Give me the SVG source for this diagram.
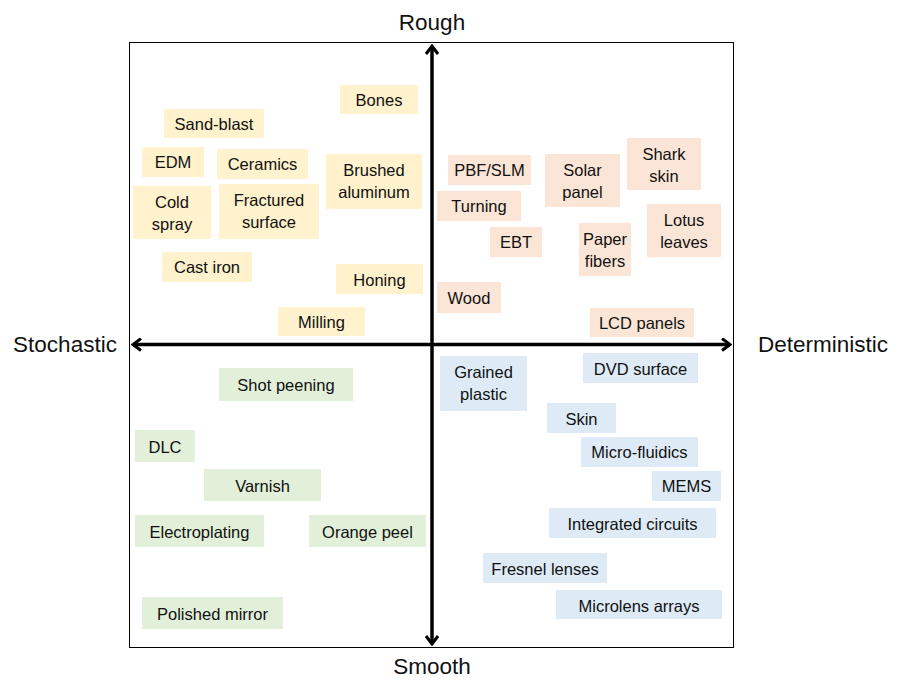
<svg xmlns="http://www.w3.org/2000/svg" width="908" height="696" viewBox="0 0 908 696">
<style>
text{font-family:"Liberation Sans",Arial,sans-serif;fill:#111;text-anchor:middle}
.n{font-size:16.5px}
.ax{font-size:22.5px}
.y{fill:#FFF2CC}
.p{fill:#FBE5D6}
.g{fill:#E2F0D9}
.b{fill:#DEEBF7}
.axis{stroke:#000;stroke-width:3.5;fill:none}
</style>
<defs>
<marker id="ah" viewBox="0 0 12 14" refX="10" refY="7" markerWidth="12" markerHeight="14" markerUnits="userSpaceOnUse" orient="auto-start-reverse">
<path d="M2,1 L10,7 L2,13" fill="none" stroke="#000" stroke-width="3"/>
</marker>
</defs>
<rect x="0" y="0" width="908" height="696" fill="#fff"/>
<rect x="129.5" y="42.5" width="604" height="605" fill="none" stroke="#000" stroke-width="1"/>

<g id="n-bones"><rect class="y" x="340" y="85" width="78" height="29"/><text class="n" x="379" y="105.5">Bones</text></g>
<g id="n-sandblast"><rect class="y" x="164" y="109" width="100" height="29"/><text class="n" x="214" y="129.5">Sand-blast</text></g>
<g id="n-edm"><rect class="y" x="142" y="147" width="62" height="30"/><text class="n" x="173" y="167.5">EDM</text></g>
<g id="n-ceramics"><rect class="y" x="217" y="149" width="91" height="30"/><text class="n" x="262.5" y="169.5">Ceramics</text></g>
<g id="n-brushed"><rect class="y" x="326" y="154" width="96" height="55"/><text class="n" x="374" y="175.5">Brushed</text><text class="n" x="374" y="197.5">aluminum</text></g>
<g id="n-cold"><rect class="y" x="133" y="186" width="78" height="53"/><text class="n" x="172" y="207.5">Cold</text><text class="n" x="172" y="229.5">spray</text></g>
<g id="n-fractured"><rect class="y" x="219" y="184" width="100" height="55"/><text class="n" x="269" y="205.5">Fractured</text><text class="n" x="269" y="227.5">surface</text></g>
<g id="n-castiron"><rect class="y" x="162" y="252" width="90" height="30"/><text class="n" x="207" y="272.5">Cast iron</text></g>
<g id="n-honing"><rect class="y" x="336" y="264" width="87" height="30"/><text class="n" x="379.5" y="285.5">Honing</text></g>
<g id="n-milling"><rect class="y" x="278" y="307" width="87" height="29"/><text class="n" x="321.5" y="327.5">Milling</text></g>

<g id="n-pbf"><rect class="p" x="448" y="155" width="83" height="30"/><text class="n" x="489.5" y="175.5">PBF/SLM</text></g>
<g id="n-turning"><rect class="p" x="437" y="191" width="84" height="30"/><text class="n" x="479" y="211.5">Turning</text></g>
<g id="n-ebt"><rect class="p" x="490" y="227" width="52" height="30"/><text class="n" x="516" y="247.5">EBT</text></g>
<g id="n-solar"><rect class="p" x="545" y="154" width="75" height="53"/><text class="n" x="582.5" y="175.5">Solar</text><text class="n" x="582.5" y="197.5">panel</text></g>
<g id="n-shark"><rect class="p" x="627" y="138" width="74" height="52"/><text class="n" x="664" y="159.5">Shark</text><text class="n" x="664" y="181.5">skin</text></g>
<g id="n-paper"><rect class="p" x="579" y="223" width="52" height="53"/><text class="n" x="605" y="244.5">Paper</text><text class="n" x="605" y="266.5">fibers</text></g>
<g id="n-lotus"><rect class="p" x="647" y="204" width="74" height="53"/><text class="n" x="684" y="225.5">Lotus</text><text class="n" x="684" y="247.5">leaves</text></g>
<g id="n-wood"><rect class="p" x="437" y="282" width="64" height="31"/><text class="n" x="469" y="303.5">Wood</text></g>
<g id="n-lcd"><rect class="p" x="590" y="308" width="104" height="29"/><text class="n" x="642" y="328.5">LCD panels</text></g>

<g id="n-shot"><rect class="g" x="219" y="368" width="134" height="33"/><text class="n" x="286" y="390.5">Shot peening</text></g>
<g id="n-dlc"><rect class="g" x="135" y="430" width="60" height="32"/><text class="n" x="165" y="452.5">DLC</text></g>
<g id="n-varnish"><rect class="g" x="204" y="469" width="117" height="32"/><text class="n" x="262.5" y="491.5">Varnish</text></g>
<g id="n-electro"><rect class="g" x="135" y="515" width="129" height="32"/><text class="n" x="199.5" y="537.5">Electroplating</text></g>
<g id="n-orange"><rect class="g" x="309" y="515" width="117" height="32"/><text class="n" x="367.5" y="537.5">Orange peel</text></g>
<g id="n-polished"><rect class="g" x="142" y="597" width="141" height="32"/><text class="n" x="212.5" y="619.5">Polished mirror</text></g>

<g id="n-grained"><rect class="b" x="440" y="356" width="87" height="55"/><text class="n" x="483.5" y="377.5">Grained</text><text class="n" x="483.5" y="399.5">plastic</text></g>
<g id="n-dvd"><rect class="b" x="583" y="353" width="115" height="30"/><text class="n" x="640.5" y="374.5">DVD surface</text></g>
<g id="n-skin"><rect class="b" x="547" y="403" width="69" height="30"/><text class="n" x="581.5" y="424.5">Skin</text></g>
<g id="n-micro"><rect class="b" x="581" y="437" width="117" height="30"/><text class="n" x="639.5" y="457.5">Micro-fluidics</text></g>
<g id="n-mems"><rect class="b" x="652" y="471" width="69" height="30"/><text class="n" x="686.5" y="491.5">MEMS</text></g>
<g id="n-ic"><rect class="b" x="549" y="508" width="167" height="30"/><text class="n" x="632.5" y="529.5">Integrated circuits</text></g>
<g id="n-fresnel"><rect class="b" x="483" y="553" width="124" height="30"/><text class="n" x="545" y="574.5">Fresnel lenses</text></g>
<g id="n-microlens"><rect class="b" x="556" y="590" width="166" height="29"/><text class="n" x="639" y="611.5">Microlens arrays</text></g>

<g id="connectors">
<line class="axis" x1="133" y1="344.5" x2="730" y2="344.5" marker-start="url(#ah)" marker-end="url(#ah)"/>
<line class="axis" x1="432" y1="46" x2="432" y2="644" marker-start="url(#ah)" marker-end="url(#ah)"/>
</g>

<g id="labels">
<text class="ax" x="432" y="30">Rough</text>
<text class="ax" x="432" y="674">Smooth</text>
<text class="ax" x="65" y="352">Stochastic</text>
<text class="ax" x="823" y="352">Deterministic</text>
</g>
</svg>
